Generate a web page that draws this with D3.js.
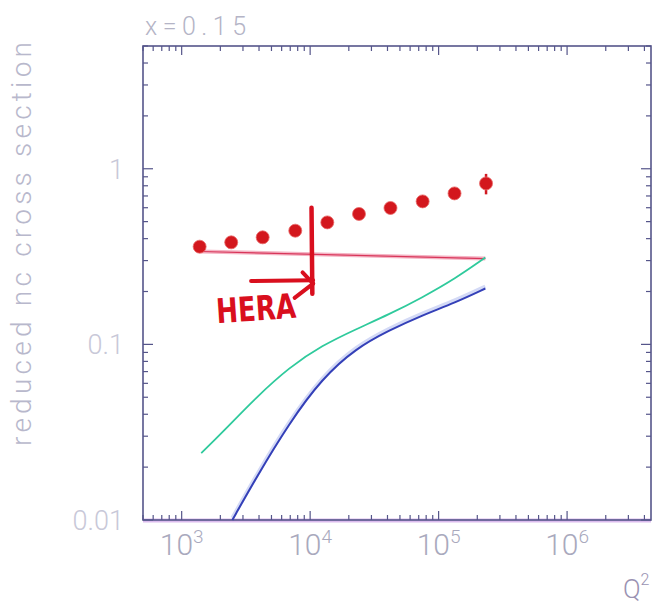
<!DOCTYPE html>
<html>
<head>
<meta charset="utf-8">
<script src="https://cdn.jsdelivr.net/npm/d3@7/dist/d3.min.js"></script>
<style>
  html, body { margin: 0; padding: 0; background: #fff; }
  svg { display: block; }
  text { font-family: "Roboto", "DejaVu Sans", sans-serif; font-weight: 300; }
</style>
</head>
<body>
<svg id="chart" width="654" height="605"></svg>
<script>
// ---------- data ----------
const title = "x=0.15";
const yTitle = "reduced nc cross section";
const xTitle = "Q";
const xTickDecades = [3, 4, 5, 6];          // labels 10^3 ... 10^6
const yTickValues = [0.01, 0.1, 1];
const yTickLabels = ["0.01", "0.1", "1"];

// HERA data points (Q^2, reduced cross section, error)
const dataQ2  = [1380, 2430, 4270, 7660, 13600, 24000, 42200, 75100, 133000, 234000];
const dataVal = [0.360, 0.381, 0.407, 0.444, 0.495, 0.553, 0.598, 0.652, 0.724, 0.825];
const dataErr = [0, 0, 0, 0, 0, 0, 0, 0, 0, 0.11];

// red (nearly flat) curve
const redQ2  = [1400, 231000];
const redVal = [0.338, 0.308];

// green curve
const greenQ2  = [1420, 2080, 3810, 6870, 12400, 22700, 41000, 73800, 135000, 231000];
const greenVal = [0.0240, 0.0316, 0.050, 0.074, 0.0987, 0.122, 0.148, 0.184, 0.237, 0.312];

// blue curve
const blueQ2  = [2480, 3810, 6870, 12400, 22700, 41000, 73800, 135000, 231000];
const blueVal = [0.0100, 0.0175, 0.0356, 0.0641, 0.0949, 0.120, 0.146, 0.173, 0.208];

// hand-drawn "HERA" annotation (in data coordinates)
const heraLabel = "HERA";
const heraTextAt = [1880, 0.132];
const heraBar = [[10250, 0.600], [10400, 0.194]];
const heraShaft = [[3470, 0.2295], [10550, 0.232]];
const heraHeadUp = [[8730, 0.257], [10550, 0.222]];
const heraHeadLow = [[7570, 0.184], [10550, 0.222]];

// ---------- layout ----------
const svg = d3.select("#chart");
const L = 143, R = 651, T = 46, B = 520;

const x = d3.scaleLog().domain([500, 4.5e6]).range([L, R]);
const y = d3.scaleLog().domain([0.01, 5]).range([B, T]);

const axisCol = "#55558a";
const labelCol = "#a9a9bd";

// frame halo + frame
svg.append("line").attr("x1", L).attr("x2", R).attr("y1", B + 0.5).attr("y2", B + 0.5)
  .attr("stroke", "#dcbcee").attr("stroke-width", 4);
svg.append("rect").attr("x", L).attr("y", T).attr("width", R - L).attr("height", B - T)
  .attr("fill", "none").attr("stroke", axisCol).attr("stroke-width", 1.6);

// ticks
const xt = x.ticks();
const gT = svg.append("g").attr("stroke", axisCol).attr("stroke-width", 1.2);
xt.forEach(v => {
  const major = Math.abs(Math.log10(v) - Math.round(Math.log10(v))) < 1e-9;
  const len = major ? 9 : 5;
  gT.append("line").attr("x1", x(v)).attr("x2", x(v)).attr("y1", B).attr("y2", B - len);
  gT.append("line").attr("x1", x(v)).attr("x2", x(v)).attr("y1", T).attr("y2", T + len);
});
const yt = y.ticks();
yt.forEach(v => {
  const major = Math.abs(Math.log10(v) - Math.round(Math.log10(v))) < 1e-9;
  const len = major ? 10 : 5;
  gT.append("line").attr("y1", y(v)).attr("y2", y(v)).attr("x1", L).attr("x2", L + len);
  gT.append("line").attr("y1", y(v)).attr("y2", y(v)).attr("x1", R).attr("x2", R - len);
});

// x tick labels 10^n
xTickDecades.forEach(d => {
  const t = svg.append("text").attr("x", x(Math.pow(10, d))).attr("y", 555)
    .attr("text-anchor", "middle").attr("fill", labelCol).attr("font-size", 30);
  t.append("tspan").text("10");
  t.append("tspan").attr("font-size", 19).attr("dy", -12).text(String(d));
});

// y tick labels
yTickValues.forEach((v, i) => {
  svg.append("text").attr("x", 124).attr("y", y(v) + 10)
    .attr("text-anchor", "end").attr("fill", "#c8c8d8").attr("font-size", 27)
    .text(yTickLabels[i]);
});

// titles
svg.append("text").attr("x", 145).attr("y", 35).attr("fill", "#b4b4c6")
  .attr("font-size", 25).attr("letter-spacing", 5.5).text(title);

svg.append("text").attr("transform", "translate(31,446) rotate(-90)")
  .attr("fill", "#b8b8cc").attr("font-size", 28)
  .attr("textLength", 404).attr("lengthAdjust", "spacing").text(yTitle);

const qt = svg.append("text").attr("x", 623).attr("y", 598).attr("fill", "#9a92b2").attr("font-size", 26);
qt.append("tspan").text(xTitle);
qt.append("tspan").attr("font-size", 16).attr("dy", -13).text("2");

// ---------- curves ----------
const line = d3.line().x(d => x(d[0])).y(d => y(d[1])).curve(d3.curveBasis);
const zip = (a, b) => a.map((v, i) => [v, b[i]]);

// red
svg.append("path").datum(zip(redQ2, redVal)).attr("d", line)
  .attr("fill", "none").attr("stroke", "#f4b4c4").attr("stroke-width", 4);
svg.append("path").datum(zip(redQ2, redVal)).attr("d", line)
  .attr("fill", "none").attr("stroke", "#d8365a").attr("stroke-width", 1.2);

// green
svg.append("path").datum(zip(greenQ2, greenVal)).attr("d", line)
  .attr("fill", "none").attr("stroke", "#2fca9c").attr("stroke-width", 1.8);

// blue
svg.append("path").datum(zip(blueQ2, blueVal)).attr("d", line)
  .attr("transform", "translate(0,-2)")
  .attr("fill", "none").attr("stroke", "#d4daf6").attr("stroke-width", 4);
svg.append("path").datum(zip(blueQ2, blueVal)).attr("d", line)
  .attr("fill", "none").attr("stroke", "#3440b8").attr("stroke-width", 2);

// ---------- data points ----------
const pts = dataQ2.map((q, i) => ({q, v: dataVal[i], e: dataErr[i]}));
svg.append("g").selectAll("line").data(pts.filter(p => p.e > 0)).join("line")
  .attr("x1", p => x(p.q)).attr("x2", p => x(p.q))
  .attr("y1", p => y(p.v + p.e)).attr("y2", p => y(p.v - p.e))
  .attr("stroke", "#d01a22").attr("stroke-width", 2.5);
svg.append("g").selectAll("circle").data(pts).join("circle")
  .attr("cx", p => x(p.q)).attr("cy", p => y(p.v)).attr("r", 6.5)
  .attr("fill", "#d3171d").attr("stroke", "#e86a6a").attr("stroke-width", 0.8);

// ---------- HERA annotation ----------
const red = "#d90f1e";
const seg = (pts, w) => svg.append("path")
  .attr("d", d3.line().x(d => x(d[0])).y(d => y(d[1]))(pts))
  .attr("fill", "none").attr("stroke", red).attr("stroke-width", w)
  .attr("stroke-linecap", "round");
seg(heraBar, 4.5);
seg(heraShaft, 4);
seg(heraHeadUp, 4);
seg(heraHeadLow, 4);
const hx = x(heraTextAt[0]), hy = y(heraTextAt[1]);
svg.append("text").attr("transform", `translate(${hx},${hy}) rotate(-4)`)
  .attr("fill", red).attr("font-size", 34)
  .style("font-family", "'DejaVu Sans Condensed', 'DejaVu Sans', sans-serif").style("font-weight", "bold")
  .attr("textLength", 80).attr("lengthAdjust", "spacingAndGlyphs").text(heraLabel);
</script>
</body>
</html>
